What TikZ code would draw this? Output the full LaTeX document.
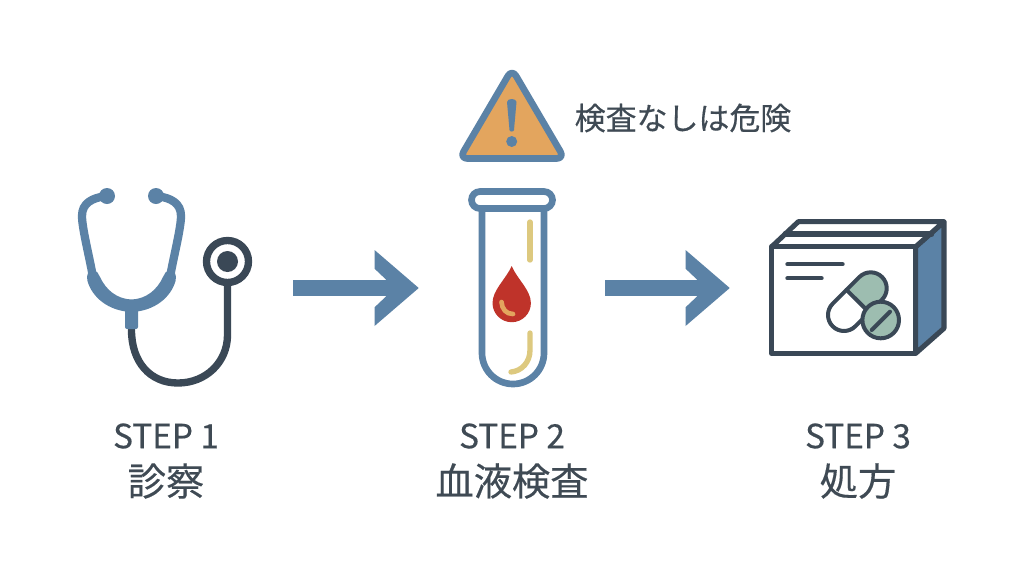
\documentclass[tikz,border=0pt]{standalone}
\usepackage{fontspec}
\setmainfont{Noto Sans CJK JP}[FakeBold=0.35]
\usepackage{xcolor}
\usetikzlibrary{arrows.meta,positioning}
\definecolor{steelb}{HTML}{5B82A6}
\definecolor{slate}{HTML}{3A4856}
\definecolor{amberw}{HTML}{E3A55E}
\definecolor{sandl}{HTML}{DDC97F}
\definecolor{bloodr}{HTML}{BF332A}
\definecolor{pillg}{HTML}{9DBDB0}
\definecolor{inktxt}{HTML}{3F4A54}
\pgfdeclarearrow{
	name = BarbHead,
	setup code = {
		\pgfarrowssettipend{0pt}
		\pgfarrowssetlineend{-20pt}
		\pgfarrowssetvisualbackend{-33.15pt}
		\pgfarrowssetbackend{-33.15pt}
		\pgfarrowshullpoint{0pt}{0pt}
		\pgfarrowshullpoint{-33.15pt}{28.5pt}
		\pgfarrowshullpoint{-33.15pt}{-28.5pt}
	},
	drawing code = {
		\pgfpathmoveto{\pgfqpoint{0pt}{0pt}}
		\pgfpathlineto{\pgfqpoint{-33.15pt}{28.5pt}}
		\pgfpathlineto{\pgfqpoint{-33.15pt}{14.5pt}}
		\pgfpathlineto{\pgfqpoint{-24.4pt}{6.2pt}}
		\pgfpathlineto{\pgfqpoint{-24.4pt}{-6.2pt}}
		\pgfpathlineto{\pgfqpoint{-33.15pt}{-14.5pt}}
		\pgfpathlineto{\pgfqpoint{-33.15pt}{-28.5pt}}
		\pgfpathclose
		\pgfusepathqfill
	}
}
\tikzset{%
	iconwide/.style = {rectangle, inner sep=0pt, minimum width=192pt, minimum height=150pt}, % Icon area
	iconslim/.style = {rectangle, inner sep=0pt, minimum width=139.5pt, minimum height=150pt}, % Icon area
	flow/.style     = {draw=steelb, line width=12.6pt, -BarbHead},
	steplabel/.style = {text=inktxt, font=\fontsize{25}{27}\selectfont, inner sep=0pt},
	namelabel/.style = {text=inktxt, font=\fontsize{28.7}{31}\selectfont, inner sep=0pt},
	warnlabel/.style = {text=inktxt, font=\fontsize{23.2}{26}\selectfont, inner sep=0pt},
	tubeblue/.style  = {draw=steelb, line width=5pt, line cap=round},
	rubber/.style    = {draw=slate, line width=5.5pt, line cap=round},
	boxline/.style   = {draw=slate, line width=3.8pt, line join=round, line cap=round},
	sandline/.style  = {draw=sandl, line width=4pt, line cap=round},
}
\begin{document}
\begin{tikzpicture}[x=0.75pt,y=-0.75pt]
	\useasboundingbox (0,0) rectangle (1024,576);
	\fill[white] (0,0) rectangle (1024,576);

	\node [iconwide] (steth) at (165,288) {};
	\node [iconslim] (tube) at (512,288) {};
	\node [iconwide] (pack) at (858,288) {};

	% stethoscope
	\draw[rubber] (131.5,330) .. controls (131.5,362) and (150,383) .. (178,383) .. controls (206,383) and (227.5,362) .. (227.5,335) -- (227.5,280);
	\draw[tubeblue,line width=6.2pt] (106,196) .. controls (92,198) and (82,203) .. (82,216) .. controls (82,228) and (89,255) .. (93,277);
	\draw[tubeblue,line width=6.2pt] (157,196) .. controls (171,198) and (181,203) .. (181,216) .. controls (181,228) and (174,255) .. (170,277);
	\fill[steelb] (107,196) circle (8);
	\fill[steelb] (156,196) circle (8);
	\fill[steelb] (93,270) .. controls (88,271) and (86,275) .. (87.5,281) .. controls (92,297) and (108,311) .. (131.5,312)
		.. controls (155,311) and (171,297) .. (175.5,281) .. controls (177,275) and (175,271) .. (170,270)
		.. controls (166,271) and (164,274) .. (163,277) .. controls (157,290) and (146,299) .. (131.5,299.5)
		.. controls (117,299) and (106,290) .. (100,277) .. controls (99,274) and (97,271) .. (93,270) -- cycle;
	\fill[steelb,rounded corners=1.5pt] (125,308) rectangle (138,329);
	\draw[slate,line width=5.5pt,fill=white] (227.5,261.5) circle (21);
	\fill[slate] (227.5,261.5) circle (10.5);

	% warning sign
	\draw[draw=steelb,fill=amberw,line width=5pt,line join=round,rounded corners=6pt] (512,69) -- (564.5,158.5) -- (459.5,158.5) -- cycle;
	\fill[steelb] (507,102) .. controls (507,98) and (516.5,98) .. (516.5,102) -- (514,130) .. controls (514,132) and (509.5,132) .. (509.5,130) -- cycle;
	\fill[steelb] (511.7,141.5) circle (5.5);
	\node [warnlabel] (warn) at (683,118) {検査なしは危険};

	% test tube
	\draw[tubeblue,fill=white] (482,208) -- (482,353) arc[start angle=180,end angle=0,radius=31] -- (544,208);
	\draw[tubeblue,fill=white] (480,191.5) -- (544,191.5) arc[start angle=-90,end angle=90,radius=8.5] -- (480,208.5) arc[start angle=90,end angle=270,radius=8.5] -- cycle;
	\draw[sandline] (530,222) -- (530,260);
	\draw[sandline] (530,333) -- (530,350) .. controls (530,362) and (522,371) .. (511,372);
	\fill[bloodr] (511.7,266) .. controls (506,279) and (492.5,290) .. (492.5,303) arc[start angle=180,end angle=0,radius=19.2] .. controls (530.9,290) and (517,279) .. (511.7,266) -- cycle;
	\draw[draw=amberw,line width=3.5pt,line cap=round] (501.5,302) .. controls (502,309) and (506,314) .. (513,314);

	% medicine box
	\draw[boxline,fill=steelb] (915.7,246.7) -- (944,221.7) -- (944,328.3) -- (915.7,353.3) -- cycle;
	\draw[boxline,fill=white] (771.7,246.7) -- (798.3,221.7) -- (944,221.7) -- (915.7,246.7) -- cycle;
	\draw[boxline] (785,234) -- (931.7,234);
	\draw[boxline,fill=white] (771.7,246.7) rectangle (915.7,353.3);
	\draw[boxline,line width=3pt] (787.3,264.3) -- (842.7,264.3);
	\draw[boxline,line width=3pt] (787.3,278.3) -- (821.7,278.3);
	\fill[pillg] (846.5,289.9) -- (859.4,277) arc[start angle=225,end angle=405,radius=16] -- (869.2,312.4) -- cycle;
	\draw[boxline,line width=3pt] (832.7,303.7) -- (859.4,277) arc[start angle=225,end angle=405,radius=16] -- (855.3,326.3) arc[start angle=45,end angle=225,radius=16] -- cycle;
	\draw[boxline,line width=3pt] (846.5,289.9) -- (869.2,312.4);
	\draw[boxline,line width=3pt,fill=pillg] (880.7,320) circle (18.3);
	\draw[boxline,line width=3pt] (871.7,330) -- (890,311.7);

	\draw[flow] (steth) -- (tube);
	\draw[flow] (tube) -- (pack);

	\node [steplabel] (step1) at (166,436) {STEP 1};
	\node [namelabel] (name1) at (166,481) {診察};
	\node [steplabel] (step2) at (512,436) {STEP 2};
	\node [namelabel] (name2) at (512,481) {血液検査};
	\node [steplabel] (step3) at (858,436) {STEP 3};
	\node [namelabel] (name3) at (858,481) {処方};
\end{tikzpicture}
\end{document}
